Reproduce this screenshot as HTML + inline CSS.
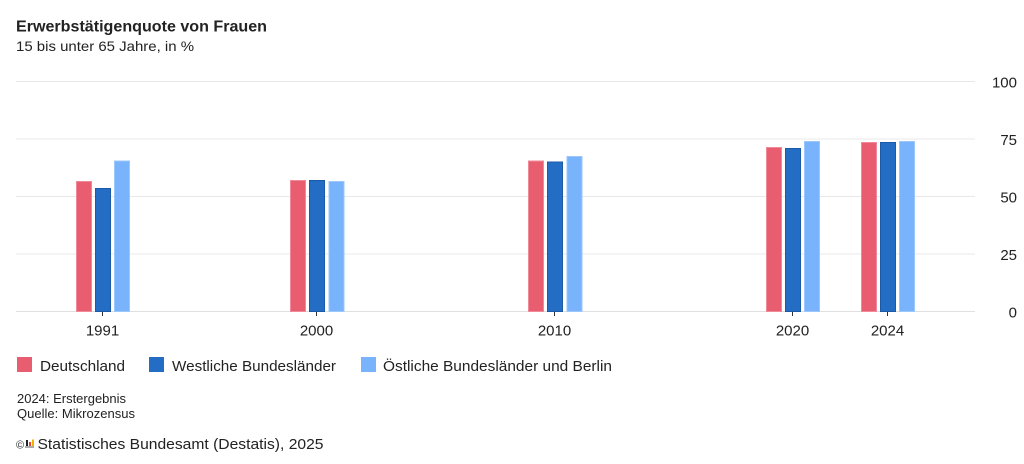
<!DOCTYPE html>
<html>
<head>
<meta charset="utf-8">
<style>
html,body{margin:0;padding:0;background:#fff;}
body{width:1024px;height:464px;overflow:hidden;}
svg{display:block;}
text{font-family:"Liberation Sans",Arial,sans-serif;fill:#222;}
</style>
</head>
<body>
<svg width="1024" height="464" viewBox="0 0 1024 464" xmlns="http://www.w3.org/2000/svg">
<rect x="0" y="0" width="1024" height="464" fill="#fff"/>
<text x="16" y="31.5" font-size="16" font-weight="bold" textLength="251" lengthAdjust="spacingAndGlyphs" fill="#1a1a1a">Erwerbstätigenquote von Frauen</text>
<text x="16" y="51" font-size="14" textLength="178" lengthAdjust="spacingAndGlyphs" fill="#333">15 bis unter 65 Jahre, in %</text>

<g stroke="#e8e8e8" stroke-width="1">
<line x1="16" y1="81.5" x2="975" y2="81.5"/>
<line x1="16" y1="139" x2="975" y2="139"/>
<line x1="16" y1="196.5" x2="975" y2="196.5"/>
<line x1="16" y1="254" x2="975" y2="254"/>
<line x1="16" y1="311.5" x2="975" y2="311.5" stroke="#e0e0e0"/>
</g>

<g font-size="15" text-anchor="end" fill="#333">
<text x="1017" y="87.5">100</text>
<text x="1017" y="145">75</text>
<text x="1017" y="202.5">50</text>
<text x="1017" y="260">25</text>
<text x="1017" y="317.5">0</text>
</g>

<g stroke-width="1">
<!-- 1991 -->
<rect x="76.5" y="181.5" width="15" height="130" fill="#e85d70" stroke="#f08a98"/>
<rect x="95.5" y="188.5" width="15" height="123" fill="#236dc4" stroke="#1c5aa8"/>
<rect x="114.5" y="161" width="15" height="150.5" fill="#78b3fc" stroke="#9cc7fd"/>
<!-- 2000 -->
<rect x="290.5" y="180.5" width="15" height="131" fill="#e85d70" stroke="#f08a98"/>
<rect x="309.5" y="180.5" width="15" height="131" fill="#236dc4" stroke="#1c5aa8"/>
<rect x="329" y="181.5" width="15" height="130" fill="#78b3fc" stroke="#9cc7fd"/>
<!-- 2010 -->
<rect x="528.5" y="161" width="15" height="150.5" fill="#e85d70" stroke="#f08a98"/>
<rect x="547.5" y="162" width="15" height="149.5" fill="#236dc4" stroke="#1c5aa8"/>
<rect x="567" y="156.5" width="15" height="155" fill="#78b3fc" stroke="#9cc7fd"/>
<!-- 2020 -->
<rect x="766.5" y="147.5" width="15" height="164" fill="#e85d70" stroke="#f08a98"/>
<rect x="785.5" y="148.5" width="15" height="163" fill="#236dc4" stroke="#1c5aa8"/>
<rect x="804.5" y="141.5" width="15" height="170" fill="#78b3fc" stroke="#9cc7fd"/>
<!-- 2024 -->
<rect x="861.5" y="142.5" width="15" height="169" fill="#e85d70" stroke="#f08a98"/>
<rect x="880.5" y="142.5" width="15" height="169" fill="#236dc4" stroke="#1c5aa8"/>
<rect x="899.5" y="141.5" width="15" height="170" fill="#78b3fc" stroke="#9cc7fd"/>
</g>

<g stroke="#333" stroke-width="1">
<line x1="102.5" y1="312" x2="102.5" y2="316"/>
<line x1="316.5" y1="312" x2="316.5" y2="316"/>
<line x1="554.5" y1="312" x2="554.5" y2="316"/>
<line x1="792.5" y1="312" x2="792.5" y2="316"/>
<line x1="887.5" y1="312" x2="887.5" y2="316"/>
</g>
<g font-size="15" text-anchor="middle" fill="#333">
<text x="102.5" y="335.5">1991</text>
<text x="316.5" y="335.5">2000</text>
<text x="554.5" y="335.5">2010</text>
<text x="792.5" y="335.5">2020</text>
<text x="887.5" y="335.5">2024</text>
</g>

<!-- legend -->
<rect x="17" y="357" width="15" height="15" fill="#e85d70"/>
<text x="40" y="371" font-size="14.5" textLength="85" lengthAdjust="spacingAndGlyphs" fill="#222">Deutschland</text>
<rect x="149" y="357" width="15" height="15" fill="#236dc4"/>
<text x="172" y="371" font-size="14.5" textLength="164" lengthAdjust="spacingAndGlyphs" fill="#222">Westliche Bundesländer</text>
<rect x="361" y="357" width="15" height="15" fill="#78b3fc"/>
<text x="383" y="371" font-size="14.5" textLength="229" lengthAdjust="spacingAndGlyphs" fill="#222">Östliche Bundesländer und Berlin</text>

<!-- notes -->
<text x="17" y="403" font-size="12.5" textLength="109" lengthAdjust="spacingAndGlyphs" fill="#333">2024: Erstergebnis</text>
<text x="17" y="418" font-size="12.5" textLength="118" lengthAdjust="spacingAndGlyphs" fill="#333">Quelle: Mikrozensus</text>

<!-- copyright -->
<text x="16" y="448.5" font-size="11" fill="#333">©</text>
<rect x="25" y="446" width="9" height="2" fill="#aaa"/>
<rect x="26" y="440" width="2" height="6" fill="#222"/>
<rect x="29" y="442" width="2" height="4" fill="#e8403c"/>
<rect x="32" y="439.5" width="2" height="6.5" fill="#f0b400"/>
<text x="37.5" y="449" font-size="15" textLength="286" lengthAdjust="spacingAndGlyphs" fill="#222">Statistisches Bundesamt (Destatis), 2025</text>
</svg>
</body>
</html>
